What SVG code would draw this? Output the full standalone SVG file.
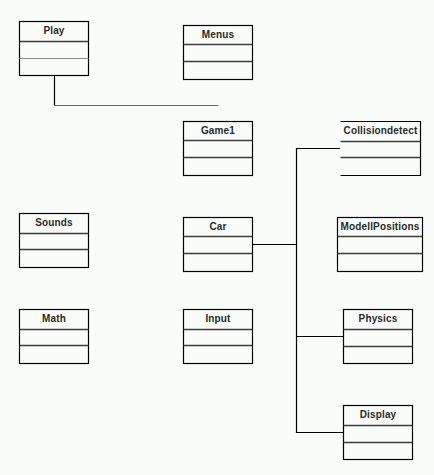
<svg xmlns="http://www.w3.org/2000/svg" width="434" height="475" viewBox="0 0 434 475">
<style>
.box{fill:none;stroke:#000;stroke-width:1.2}
.div{stroke:#3c3c3c;stroke-width:1.4}
.div2{stroke:#8a8a8a;stroke-width:1.2}
.t{font-family:"Liberation Sans",Arial,sans-serif;font-size:10px;font-weight:bold;fill:#2a2a2a;text-anchor:middle;letter-spacing:0.15px}
.c{fill:none;stroke:#000;stroke-width:1.2}
.cg{fill:none;stroke:#666;stroke-width:1.2}
</style>
<rect width="434" height="475" fill="#f9fcf9"/>
<g id="connectors">
<polyline class="c" points="54.5,76 54.5,105.5"/>
<polyline class="cg" points="54.5,105.5 218.5,105.5"/>
<polyline class="c" points="340,148.5 296.5,148.5 296.5,432.5 343,432.5"/>
<polyline class="c" points="252.5,244.5 296.5,244.5"/>
<polyline class="c" points="296.5,336.5 343,336.5"/>
</g>
<g id="Play">
<rect class="box" x="19.5" y="21.5" width="69" height="54"/>
<line class="div" x1="19.5" y1="41.5" x2="88.5" y2="41.5"/>
<line class="div2" x1="19.5" y1="58.5" x2="88.5" y2="58.5"/>
<text class="t" x="54" y="34">Play</text>
</g>
<g id="Menus">
<rect class="box" x="183.5" y="25.5" width="69" height="54"/>
<line class="div" x1="183.5" y1="44.5" x2="252.5" y2="44.5"/>
<line class="div" x1="183.5" y1="61.5" x2="252.5" y2="61.5"/>
<text class="t" x="218" y="38">Menus</text>
</g>
<g id="Game1">
<rect class="box" x="183.5" y="121.5" width="69" height="54"/>
<line class="div" x1="183.5" y1="140.5" x2="252.5" y2="140.5"/>
<line class="div" x1="183.5" y1="157.5" x2="252.5" y2="157.5"/>
<text class="t" x="218" y="134">Game1</text>
</g>
<g id="Collisiondetect">
<polyline class="box" points="340.5,121.5 420.5,121.5 420.5,175.5 340.5,175.5"/>
<line class="div" x1="340.5" y1="141.5" x2="420.5" y2="141.5"/>
<line class="div" x1="340.5" y1="157.5" x2="420.5" y2="157.5"/>
<text class="t" x="380.5" y="134">Collisiondetect</text>
</g>
<g id="Car">
<rect class="box" x="183.5" y="217.5" width="69" height="54"/>
<line class="div" x1="183.5" y1="236.5" x2="252.5" y2="236.5"/>
<line class="div" x1="183.5" y1="253.5" x2="252.5" y2="253.5"/>
<text class="t" x="218" y="230">Car</text>
</g>
<g id="ModellPositions">
<rect class="box" x="337.5" y="217.5" width="85" height="54"/>
<line class="div" x1="337.5" y1="236.5" x2="422.5" y2="236.5"/>
<line class="div" x1="337.5" y1="253.5" x2="422.5" y2="253.5"/>
<text class="t" x="380" y="230">ModellPositions</text>
</g>
<g id="Sounds">
<rect class="box" x="19.5" y="213.5" width="69" height="54"/>
<line class="div" x1="19.5" y1="233.5" x2="88.5" y2="233.5"/>
<line class="div" x1="19.5" y1="249.5" x2="88.5" y2="249.5"/>
<text class="t" x="54" y="226">Sounds</text>
</g>
<g id="Math">
<rect class="box" x="19.5" y="309.5" width="69" height="54"/>
<line class="div" x1="19.5" y1="329.5" x2="88.5" y2="329.5"/>
<line class="div" x1="19.5" y1="345.5" x2="88.5" y2="345.5"/>
<text class="t" x="54" y="322">Math</text>
</g>
<g id="Input">
<rect class="box" x="183.5" y="309.5" width="69" height="54"/>
<line class="div" x1="183.5" y1="329.5" x2="252.5" y2="329.5"/>
<line class="div" x1="183.5" y1="345.5" x2="252.5" y2="345.5"/>
<text class="t" x="218" y="322">Input</text>
</g>
<g id="Physics">
<rect class="box" x="343.5" y="309.5" width="69" height="54"/>
<line class="div" x1="343.5" y1="329.5" x2="412.5" y2="329.5"/>
<line class="div" x1="343.5" y1="346.5" x2="412.5" y2="346.5"/>
<text class="t" x="378" y="322">Physics</text>
</g>
<g id="Display">
<rect class="box" x="343.5" y="405.5" width="69" height="54"/>
<line class="div" x1="343.5" y1="425.5" x2="412.5" y2="425.5"/>
<line class="div" x1="343.5" y1="442.5" x2="412.5" y2="442.5"/>
<text class="t" x="378" y="418">Display</text>
</g>
</svg>
